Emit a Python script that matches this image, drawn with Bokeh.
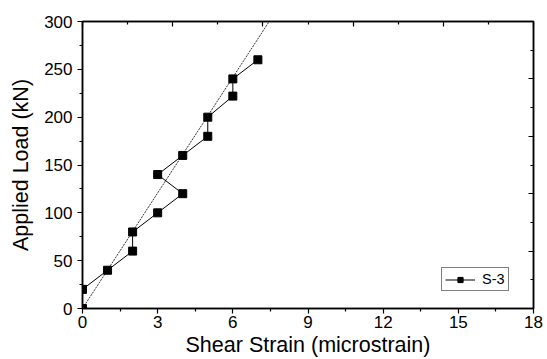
from bokeh.plotting import figure
from bokeh.models import Range1d, LinearAxis, FixedTicker, Legend, LegendItem
from bokeh.embed import file_html
from bokeh.resources import INLINE

# data
strain = [0, 0, 1, 2, 2, 3, 4, 3, 4, 5, 5, 6, 6, 7]
load = [0, 20, 40, 60, 80, 100, 120, 140, 160, 180, 200, 222, 240, 260]
fit_strain = [0, 7.45]
fit_load = [0, 300]
series_name = "S-3"

x_major = [0, 3, 6, 9, 12, 15, 18]
x_minor = [1.5, 4.5, 7.5, 10.5, 13.5, 16.5]
x_top_major = [0, 3.6, 7.2, 10.8, 14.4, 18]
x_top_minor = [1.8, 5.4, 9.0, 12.6, 16.2]
y_major = [0, 50, 100, 150, 200, 250, 300]
y_minor = [25, 75, 125, 175, 225, 275]
y_right_major = [0, 60, 120, 180, 240, 300]
y_right_minor = [30, 90, 150, 210, 270]

FONT = "Liberation Sans"

p = figure(width=547, height=359, output_backend="svg", toolbar_location=None,
           x_range=Range1d(0, 18), y_range=Range1d(0, 300),
           min_border_left=82, min_border_right=14, min_border_top=21, min_border_bottom=49,
           x_axis_label="Shear Strain (microstrain)", y_axis_label="Applied Load (kN)")
p.grid.visible = False
p.outline_line_color = "black"
p.outline_line_width = 1.5
p.background_fill_color = "white"
p.border_fill_color = "white"

# fit line
p.line(fit_strain, fit_load, line_color="black", line_width=0.8, line_dash="2 1")

ln = p.line(strain, load, line_color="black", line_width=1)
sq = p.scatter(strain, load, marker="square", size=8, fill_color="black", line_color="black")

def style_axis(ax, major, minor, tin, labels=True):
    ax.ticker = FixedTicker(ticks=major, minor_ticks=minor)
    ax.axis_line_color = "black"
    ax.axis_line_width = 1.5
    ax.major_tick_line_color = "black"
    ax.minor_tick_line_color = "black"
    ax.major_tick_line_width = 1.2
    ax.minor_tick_line_width = 1.2
    if tin:
        ax.major_tick_in, ax.major_tick_out = 5, 0
        ax.minor_tick_in, ax.minor_tick_out = 3, 0
    else:
        ax.major_tick_in, ax.major_tick_out = 0, 5
        ax.minor_tick_in, ax.minor_tick_out = 0, 3
    if labels:
        ax.major_label_text_font = FONT
        ax.major_label_text_font_size = "17px"
        ax.major_label_text_color = "black"
        ax.axis_label_text_font = FONT
        ax.axis_label_text_font_size = "21.5px"
        ax.axis_label_text_font_style = "normal"
        ax.axis_label_text_color = "black"
    else:
        ax.major_label_text_font_size = "1px"
        ax.major_label_text_color = None
        ax.major_label_standoff = 0

style_axis(p.xaxis[0], x_major, x_minor, False)
p.xaxis[0].major_label_standoff = 2
p.xaxis[0].axis_label_standoff = 2
style_axis(p.yaxis[0], y_major, y_minor, False)
p.yaxis[0].major_label_standoff = 5
p.yaxis[0].axis_label_standoff = 8

top = LinearAxis()
style_axis(top, x_top_major, x_top_minor, True, labels=False)
p.add_layout(top, "above")
right = LinearAxis()
style_axis(right, y_right_major, y_right_minor, True, labels=False)
p.add_layout(right, "right")

legend = Legend(items=[LegendItem(label=series_name, renderers=[ln, sq])],
                location=(359, 17))
legend.border_line_color = "black"
legend.border_line_width = 1
legend.padding = 3
legend.margin = 0
legend.spacing = 0
legend.glyph_width = 30
legend.glyph_height = 13
legend.label_standoff = 7
legend.label_text_font = FONT
legend.label_text_font_size = "14.5px"
legend.label_text_color = "black"
legend.background_fill_alpha = 1
p.add_layout(legend, "center")

open("out.html", "w").write(file_html(p, INLINE))
